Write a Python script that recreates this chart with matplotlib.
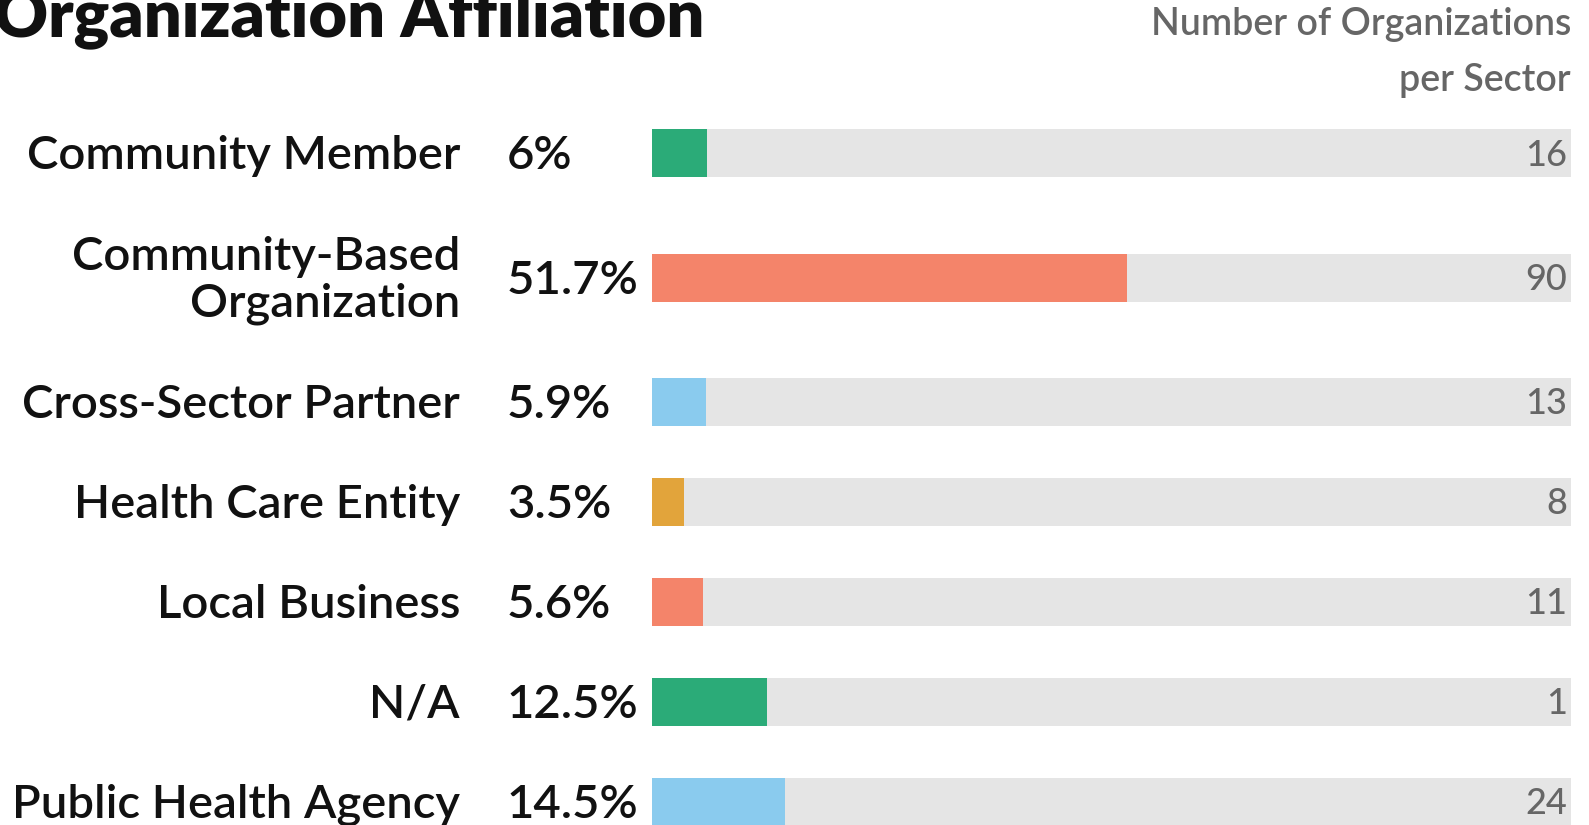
import matplotlib
matplotlib.use("Agg")
import matplotlib.pyplot as plt
from matplotlib.transforms import blended_transform_factory

# data
sectors = ["Community Member", "Community-Based\nOrganization", "Cross-Sector Partner",
           "Health Care Entity", "Local Business", "N/A", "Public Health Agency"]
percents = [6.0, 51.7, 5.9, 3.5, 5.6, 12.5, 14.5]
pct_labels = ["6%", "51.7%", "5.9%", "3.5%", "5.6%", "12.5%", "14.5%"]
counts = [16, 90, 13, 8, 11, 1, 24]
colors = ["#2bab78", "#f4846a", "#8acbee", "#e2a43b", "#f4846a", "#2bab78", "#8acbee"]

W, H = 1589, 825
plt.rcParams['font.family'] = ['Lato', 'DejaVu Sans']
fig = plt.figure(figsize=(W / 100, H / 100), dpi=100)

# bar track area in pixels
x0, x1 = 652, 1571
ax = fig.add_axes([x0 / W, 0, (x1 - x0) / W, 1])

# row positions, extra space around two-line labels
pos = []
y = 0.0
for i, s in enumerate(sectors):
    multi = "\n" in s
    if i > 0 and multi:
        y += 0.245
    pos.append(y)
    y += 1.0
    if multi:
        y += 0.245

top = -1.53
ax.set_ylim(top + H / 100, top)
ax.set_xlim(0, 100)
ax.axis("off")

bh = 0.48
ax.barh(pos, [100] * len(pos), height=bh, color="#e5e5e5", zorder=1)
ax.barh(pos, percents, height=bh, color=colors, zorder=2)

tr = blended_transform_factory(fig.transFigure, ax.transData)
for p, s, pl, c in zip(pos, sectors, pct_labels, counts):
    ax.text(460 / W, p + 0.03, s, transform=tr, ha="right", va="center", fontsize=34,
            fontweight=600, color="#111111", linespacing=1.15)
    ax.text(507 / W, p + 0.03, pl, transform=tr, ha="left", va="center", fontsize=34,
            fontweight=600, color="#111111")
    ax.text(1567 / W, p + 0.02, str(c), transform=tr, ha="right", va="center",
            fontsize=26, fontweight=500, color="#666666")

fig.text(-6 / W, 1 - 36 / H, "Organization Affiliation", ha="left", va="baseline",
         fontsize=48, fontweight="heavy", color="#111111")
fig.text(x1 / W, 1 - 25 / H, "Number of Organizations", ha="right", va="center",
         fontsize=27, fontweight=600, color="#666666")
fig.text(x1 / W, 1 - 81 / H, "per Sector", ha="right", va="center",
         fontsize=27, fontweight=600, color="#666666")

fig.savefig("out.png", dpi=100)
